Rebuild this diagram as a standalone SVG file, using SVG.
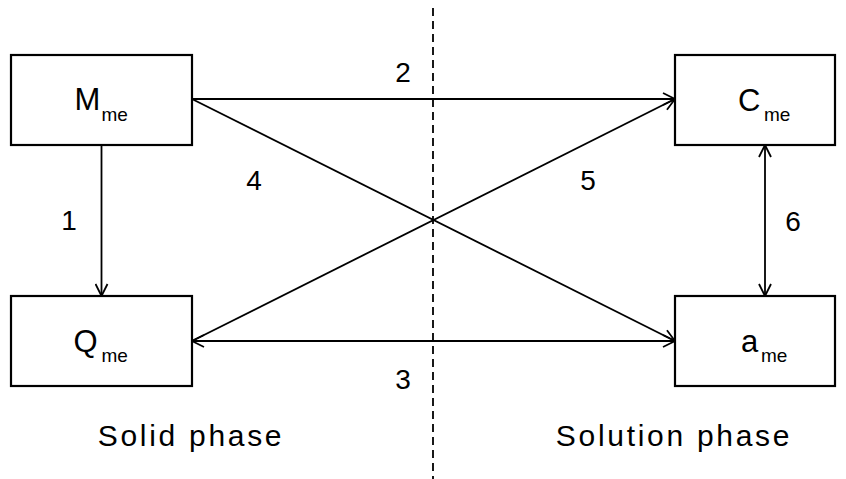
<svg xmlns="http://www.w3.org/2000/svg" width="846" height="479" viewBox="0 0 846 479">
<defs>
<marker id="ah" viewBox="0 0 14 14" refX="13" refY="7" markerWidth="14" markerHeight="14" markerUnits="userSpaceOnUse" orient="auto-start-reverse">
<path d="M1,1 L13,7 L1,13" fill="none" stroke="#000" stroke-width="1.8"/>
</marker>
<style>
.box{fill:#fff;stroke:#000;stroke-width:2.2}
.ln{stroke:#000;stroke-width:1.8;fill:none}
.t{font-family:"Liberation Sans",Arial,sans-serif;fill:#000}
.big{font-size:31px}
.sub{font-size:19px}
.num{font-size:28px;text-anchor:middle}
.ph{font-size:30px;text-anchor:middle;letter-spacing:2.7px}
</style>
</defs>
<rect width="846" height="479" fill="#fff"/>
<line x1="433" y1="8" x2="433" y2="479" stroke="#000" stroke-width="1.8" stroke-dasharray="8,5"/>
<g id="connectors">
<line class="ln" x1="101.5" y1="145" x2="101.5" y2="296" marker-end="url(#ah)"/>
<line class="ln" x1="765" y1="145" x2="765" y2="296" marker-start="url(#ah)" marker-end="url(#ah)"/>
<line class="ln" x1="192" y1="99" x2="675" y2="99" marker-end="url(#ah)"/>
<line class="ln" x1="192" y1="341" x2="675" y2="341" marker-start="url(#ah)" marker-end="url(#ah)"/>
<line class="ln" x1="192" y1="99" x2="675" y2="341" marker-end="url(#ah)"/>
<line class="ln" x1="192" y1="341" x2="675" y2="99" marker-end="url(#ah)"/>
<text class="t num" x="69" y="230">1</text>
<text class="t num" x="403" y="82">2</text>
<text class="t num" x="403" y="389">3</text>
<text class="t num" x="254" y="190">4</text>
<text class="t num" x="588" y="190">5</text>
<text class="t num" x="793" y="231">6</text>
</g>
<g id="M">
<rect class="box" x="11" y="55" width="181" height="90"/>
<text class="t" x="74.5" y="110"><tspan class="big">M</tspan><tspan class="sub" x="101.5" y="121">me</tspan></text>
</g>
<g id="Q">
<rect class="box" x="11" y="296" width="181" height="90"/>
<text class="t" x="73.5" y="351.5"><tspan class="big">Q</tspan><tspan class="sub" x="101.5" y="361.5">me</tspan></text>
</g>
<g id="C">
<rect class="box" x="675" y="55" width="160" height="90"/>
<text class="t" x="738" y="110.5"><tspan class="big">C</tspan><tspan class="sub" x="764" y="121">me</tspan></text>
</g>
<g id="a">
<rect class="box" x="675" y="296" width="160" height="90"/>
<text class="t" x="741" y="351.5"><tspan class="big">a</tspan><tspan class="sub" x="761" y="361.5">me</tspan></text>
</g>
<text class="t ph" x="191" y="446">Solid phase</text>
<text class="t ph" x="674" y="446">Solution phase</text>
</svg>
